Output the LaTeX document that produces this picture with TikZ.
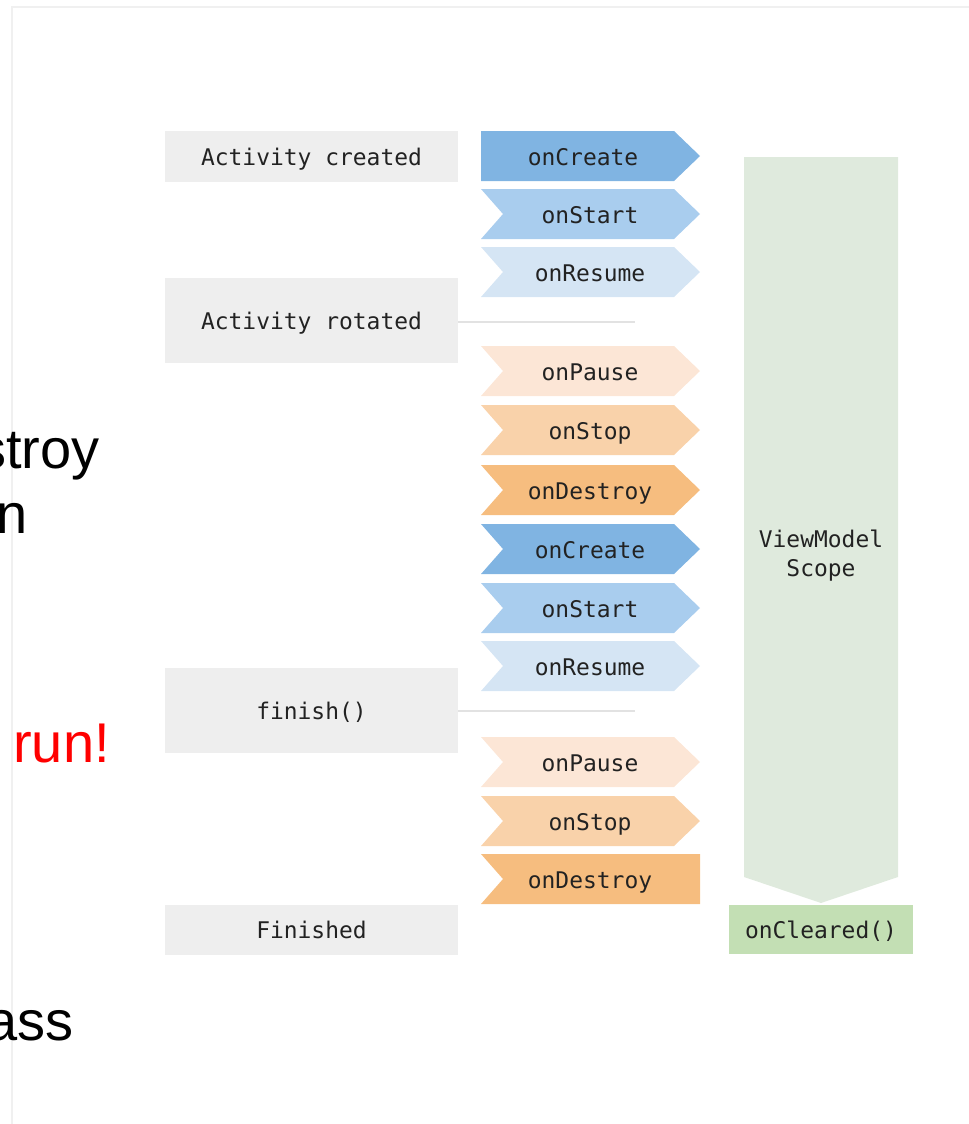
\documentclass[tikz,border=0pt]{standalone}
\usepackage{fontspec}
\setmainfont{Liberation Sans}
\newfontfamily\codefont{DejaVu Sans Mono}
% a full character cell between words of code text
\newcommand{\codespace}{\hspace{0.602em}}

\definecolor{boxgray}{HTML}{EEEEEE}
\definecolor{framegray}{HTML}{F0F0F0}
\definecolor{rulegray}{HTML}{E2E2E2}
\definecolor{blueA}{HTML}{80B4E2}
\definecolor{blueB}{HTML}{A9CDEE}
\definecolor{blueC}{HTML}{D5E5F4}
\definecolor{orangeA}{HTML}{FCE6D6}
\definecolor{orangeB}{HTML}{F9D2AA}
\definecolor{orangeC}{HTML}{F6BD7F}
\definecolor{scopegreen}{HTML}{DFEADD}
\definecolor{clearedgreen}{HTML}{C3DFB4}
\definecolor{labeltext}{HTML}{222222}

\tikzset{
  codelabel/.style={font=\codefont\fontsize{17.2}{21.8}\selectfont, text=labeltext, inner sep=0pt, align=center},
  oneline/.style={text height=12.5pt, text depth=1.5pt, yshift=-1.5pt},
  statebox/.style={fill=boxgray, codelabel, text height=14pt, text depth=0pt, minimum width=219.75pt, text width=210pt},
  slidetext/.style={font=\fontsize{42}{48}\selectfont, inner sep=0pt, anchor=base east},
}

% one lifecycle callback chevron: name, top edge, fill, label, notch depth, label x
\newcommand{\lifestep}[6]{%
  \fill[#3] (481,#2) -- (674,#2) -- (700,#2+25) -- (674,#2+50) -- (481,#2+50) -- (481+#5,#2+25) -- cycle;
  \node[codelabel, oneline] (#1) at (#6,#2+25) {#4};
}

\begin{document}
\begin{tikzpicture}[x=0.75pt,y=-0.75pt]
  \useasboundingbox (0,0) rectangle (969,1124);
  \clip (0,0) rectangle (969,1124);

  % slide frame edges
  \draw[framegray, line width=1.5pt] (12,1124) -- (12,7) -- (969,7);

  % slide text running in from the left edge
  \node[slidetext] (t1) at (100,468) {stroy};
  \node[slidetext] (t2) at (28,533) {n};
  \node[slidetext, text=red] (t3) at (110,762) {run!};
  \node[slidetext] (t4) at (74,1040) {ass};

  % activity states
  \node[statebox, minimum height=38.25pt] (created) at (311.5,156) {Activity\codespace created};
  \node[statebox, minimum height=63.75pt] (rotated) at (311.5,320.5) {Activity\codespace rotated};
  \node[statebox, minimum height=63.75pt] (finish) at (311.5,710.5) {finish()};
  \node[statebox, minimum height=37.5pt] (finished) at (311.5,929.5) {Finished};

  % separators after onResume
  \coordinate (rotEnd) at (635,322);
  \coordinate (finEnd) at (635,711);
  \draw[rulegray, line width=1pt] (rotated.east |- rotEnd) -- (rotEnd);
  \draw[rulegray, line width=1pt] (finish.east |- finEnd) -- (finEnd);

  % first creation
  \lifestep{create1}{131}{blueA}{onCreate}{0}{583}
  \lifestep{start1}{189}{blueB}{onStart}{22}{590}
  \lifestep{resume1}{247}{blueC}{onResume}{22}{590}
  % rotation
  \lifestep{pause1}{346}{orangeA}{onPause}{22}{590}
  \lifestep{stop1}{405}{orangeB}{onStop}{22}{590}
  \lifestep{destroy1}{465}{orangeC}{onDestroy}{22}{590}
  \lifestep{create2}{524}{blueA}{onCreate}{22}{590}
  \lifestep{start2}{583}{blueB}{onStart}{22}{590}
  \lifestep{resume2}{641}{blueC}{onResume}{22}{590}
  % finishing
  \lifestep{pause2}{737}{orangeA}{onPause}{22}{590}
  \lifestep{stop2}{796}{orangeB}{onStop}{22}{590}
  \fill[orangeC] (481,854) -- (700,854) -- (700,904) -- (481,904) -- (503,879) -- cycle;
  \node[codelabel, oneline] (destroy2) at (590,879) {onDestroy};

  % ViewModel scope
  \fill[scopegreen] (744,157) -- (898,157) -- (898,877) -- (821,903) -- (744,877) -- cycle;
  \node[codelabel] (scope) at (821,555.5) {ViewModel\\Scope};
  \fill[clearedgreen] (729,905) rectangle (913,954);
  \node[codelabel, oneline] (cleared) at (821,929.5) {onCleared()};
\end{tikzpicture}
\end{document}
